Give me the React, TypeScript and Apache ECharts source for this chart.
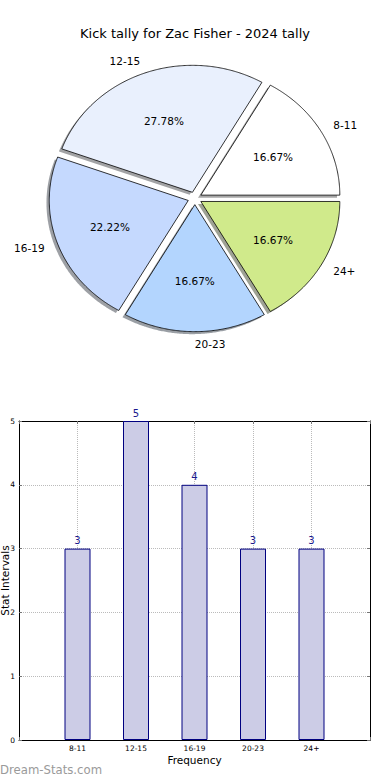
import React, { useEffect, useRef } from 'react';
import * as echarts from 'echarts';

const categories = ['8-11', '12-15', '16-19', '20-23', '24+'];
const values = [3, 5, 4, 3, 3];
const pieColors = ['#ffffff', '#e9f0fd', '#c5d9fe', '#b3d5fe', '#d0ea8b'];
const titleText = 'Kick tally for Zac Fisher - 2024 tally';
const xName = 'Frequency';
const yName = 'Stat Intervals';
const watermark = 'Dream-Stats.com';

const FONT = '"DejaVu Sans", sans-serif';

function shadowOf(hex: string) {
  const r = parseInt(hex.slice(1, 3), 16);
  const g = parseInt(hex.slice(3, 5), 16);
  const b = parseInt(hex.slice(5, 7), 16);
  return `rgba(${Math.round(r * 0.3)},${Math.round(g * 0.3)},${Math.round(b * 0.3)},0.5)`;
}

export default function App() {
  const ref = useRef<HTMLDivElement>(null);
  useEffect(() => {
    const chart = echarts.init(ref.current!, null, { renderer: 'svg' });
    const total = values.reduce((a, b) => a + b, 0);
    const cum: number[] = [];
    let acc = 0;
    values.forEach((v) => {
      cum.push(acc);
      acc += v;
    });
    const CX = 194.8, CY = 198.3, RX = 139, RY = 127, EXP = 0.05;
    const toRad = (d: number) => (d * Math.PI) / 180;
    const wedge = (i: number, dx: number, dy: number) => {
      const t1 = (cum[i] / total) * 360;
      const t2 = ((cum[i] + values[i]) / total) * 360;
      const mid = toRad((t1 + t2) / 2);
      const ox = CX + EXP * RX * Math.cos(mid) + dx;
      const oy = CY - EXP * RY * Math.sin(mid) + dy;
      const pts: number[][] = [[ox, oy]];
      const n = Math.max(2, Math.ceil((t2 - t1) * 2));
      for (let k = 0; k <= n; k++) {
        const t = toRad(t1 + ((t2 - t1) * k) / n);
        pts.push([ox + RX * Math.cos(t), oy - RY * Math.sin(t)]);
      }
      return { pts, ox, oy, mid };
    };

    const tick = { show: true, inside: true, length: 3, lineStyle: { color: '#777' } };
    const frameLine = { show: true, onZero: false, lineStyle: { color: '#000', width: 1 } };
    const grid = { type: 'dotted', color: '#bbbbbb', width: 1 };

    const option: any = {
      animation: false,
      backgroundColor: '#ffffff',
      title: {
        text: titleText,
        left: 'center',
        top: 22,
        textStyle: { fontSize: 13, fontWeight: 'normal', color: '#000', fontFamily: FONT },
      },
      grid: {
        left: 19,
        right: 20,
        top: 421,
        bottom: 40,
        containLabel: false,
        outerBoundsMode: 'none',
      },
      xAxis: [
        {
          type: 'value',
          min: -1,
          max: 5,
          interval: 1,
          position: 'bottom',
          name: xName,
          nameLocation: 'middle',
          nameGap: 14,
          nameMoveOverlap: false,
          nameTextStyle: { fontSize: 10.5, color: '#000', fontFamily: FONT },
          axisLine: frameLine,
          axisTick: tick,
          axisLabel: {
            fontSize: 7.5,
            color: '#000',
            fontFamily: FONT,
            margin: 4,
            formatter: (v: number) => (categories[v] !== undefined ? categories[v] : ''),
          },
          splitLine: { show: true, lineStyle: grid },
        },
        {
          type: 'value',
          min: -1,
          max: 5,
          interval: 1,
          position: 'top',
          axisLine: frameLine,
          axisTick: tick,
          axisLabel: { show: false },
          splitLine: { show: false },
        },
      ],
      yAxis: [
        {
          type: 'value',
          min: 0,
          max: 5,
          interval: 1,
          position: 'left',
          name: yName,
          nameLocation: 'middle',
          nameRotate: 90,
          nameGap: 9,
          nameMoveOverlap: false,
          nameTextStyle: { fontSize: 10.5, color: '#000', fontFamily: FONT },
          axisLine: frameLine,
          axisTick: tick,
          axisLabel: { fontSize: 7.5, color: '#000', fontFamily: FONT, margin: 4 },
          splitLine: { show: true, lineStyle: grid },
        },
        {
          type: 'value',
          min: 0,
          max: 5,
          interval: 1,
          position: 'right',
          axisLine: frameLine,
          axisTick: tick,
          axisLabel: { show: false },
          splitLine: { show: false },
        },
      ],
      graphic: [
        {
          type: 'text',
          left: 0,
          top: 764,
          style: { text: watermark, fill: '#9a9a9a', font: `11.7px ${FONT}` },
        },
      ],
      series: [
        {
          type: 'bar',
          xAxisIndex: 0,
          yAxisIndex: 0,
          data: categories.map((c, i) => [i, values[i]]),
          barWidth: 26,
          itemStyle: { color: '#ccccE6', borderColor: '#000080', borderWidth: 1 },
          label: {
            show: true,
            position: 'top',
            distance: 3,
            color: '#1a1a8e',
            fontSize: 10,
            fontFamily: FONT,
            formatter: (p: any) => String(p.value[1]),
          },
          z: 3,
        },
        {
          type: 'custom',
          name: 'pieShadow',
          coordinateSystem: 'none',
          data: values,
          silent: true,
          z: 1,
          renderItem: (params: any) => {
            const i = params.dataIndex;
            const w = wedge(i, -2.8, 2.5);
            const c = shadowOf(pieColors[i]);
            return {
              type: 'polygon',
              shape: { points: w.pts },
              style: { fill: c, stroke: 'none' },
            };
          },
        },
        {
          type: 'custom',
          name: 'pie',
          coordinateSystem: 'none',
          data: values,
          z: 2,
          renderItem: (params: any) => {
            const i = params.dataIndex;
            const w = wedge(i, 0, 0);
            const cm = Math.cos(w.mid);
            const sm = Math.sin(w.mid);
            const pct = ((values[i] / total) * 100).toFixed(2) + '%';
            return {
              type: 'group',
              children: [
                {
                  type: 'polygon',
                  shape: { points: w.pts },
                  style: { fill: pieColors[i], stroke: '#000', lineWidth: 0.8 },
                },
                {
                  type: 'text',
                  x: w.ox + 0.6 * RX * cm,
                  y: w.oy - 0.6 * RY * sm,
                  style: {
                    text: pct,
                    fill: '#000',
                    fontSize: 10.5,
                    fontFamily: FONT,
                    align: 'center',
                    verticalAlign: 'middle',
                  },
                },
                {
                  type: 'text',
                  x: w.ox + 1.1 * RX * cm,
                  y: w.oy - 1.1 * RY * sm,
                  style: {
                    text: categories[i],
                    fill: '#000',
                    fontSize: 10.5,
                    fontFamily: FONT,
                    align: cm > -1e-6 ? 'left' : 'right',
                    verticalAlign: 'middle',
                  },
                },
              ],
            };
          },
        },
      ],
    };
    chart.setOption(option);
    return () => chart.dispose();
  }, []);
  return (
    <div
      ref={ref}
      style={{ position: 'absolute', left: 0, top: 0, width: 390, height: 780, background: '#fff' }}
    />
  );
}
